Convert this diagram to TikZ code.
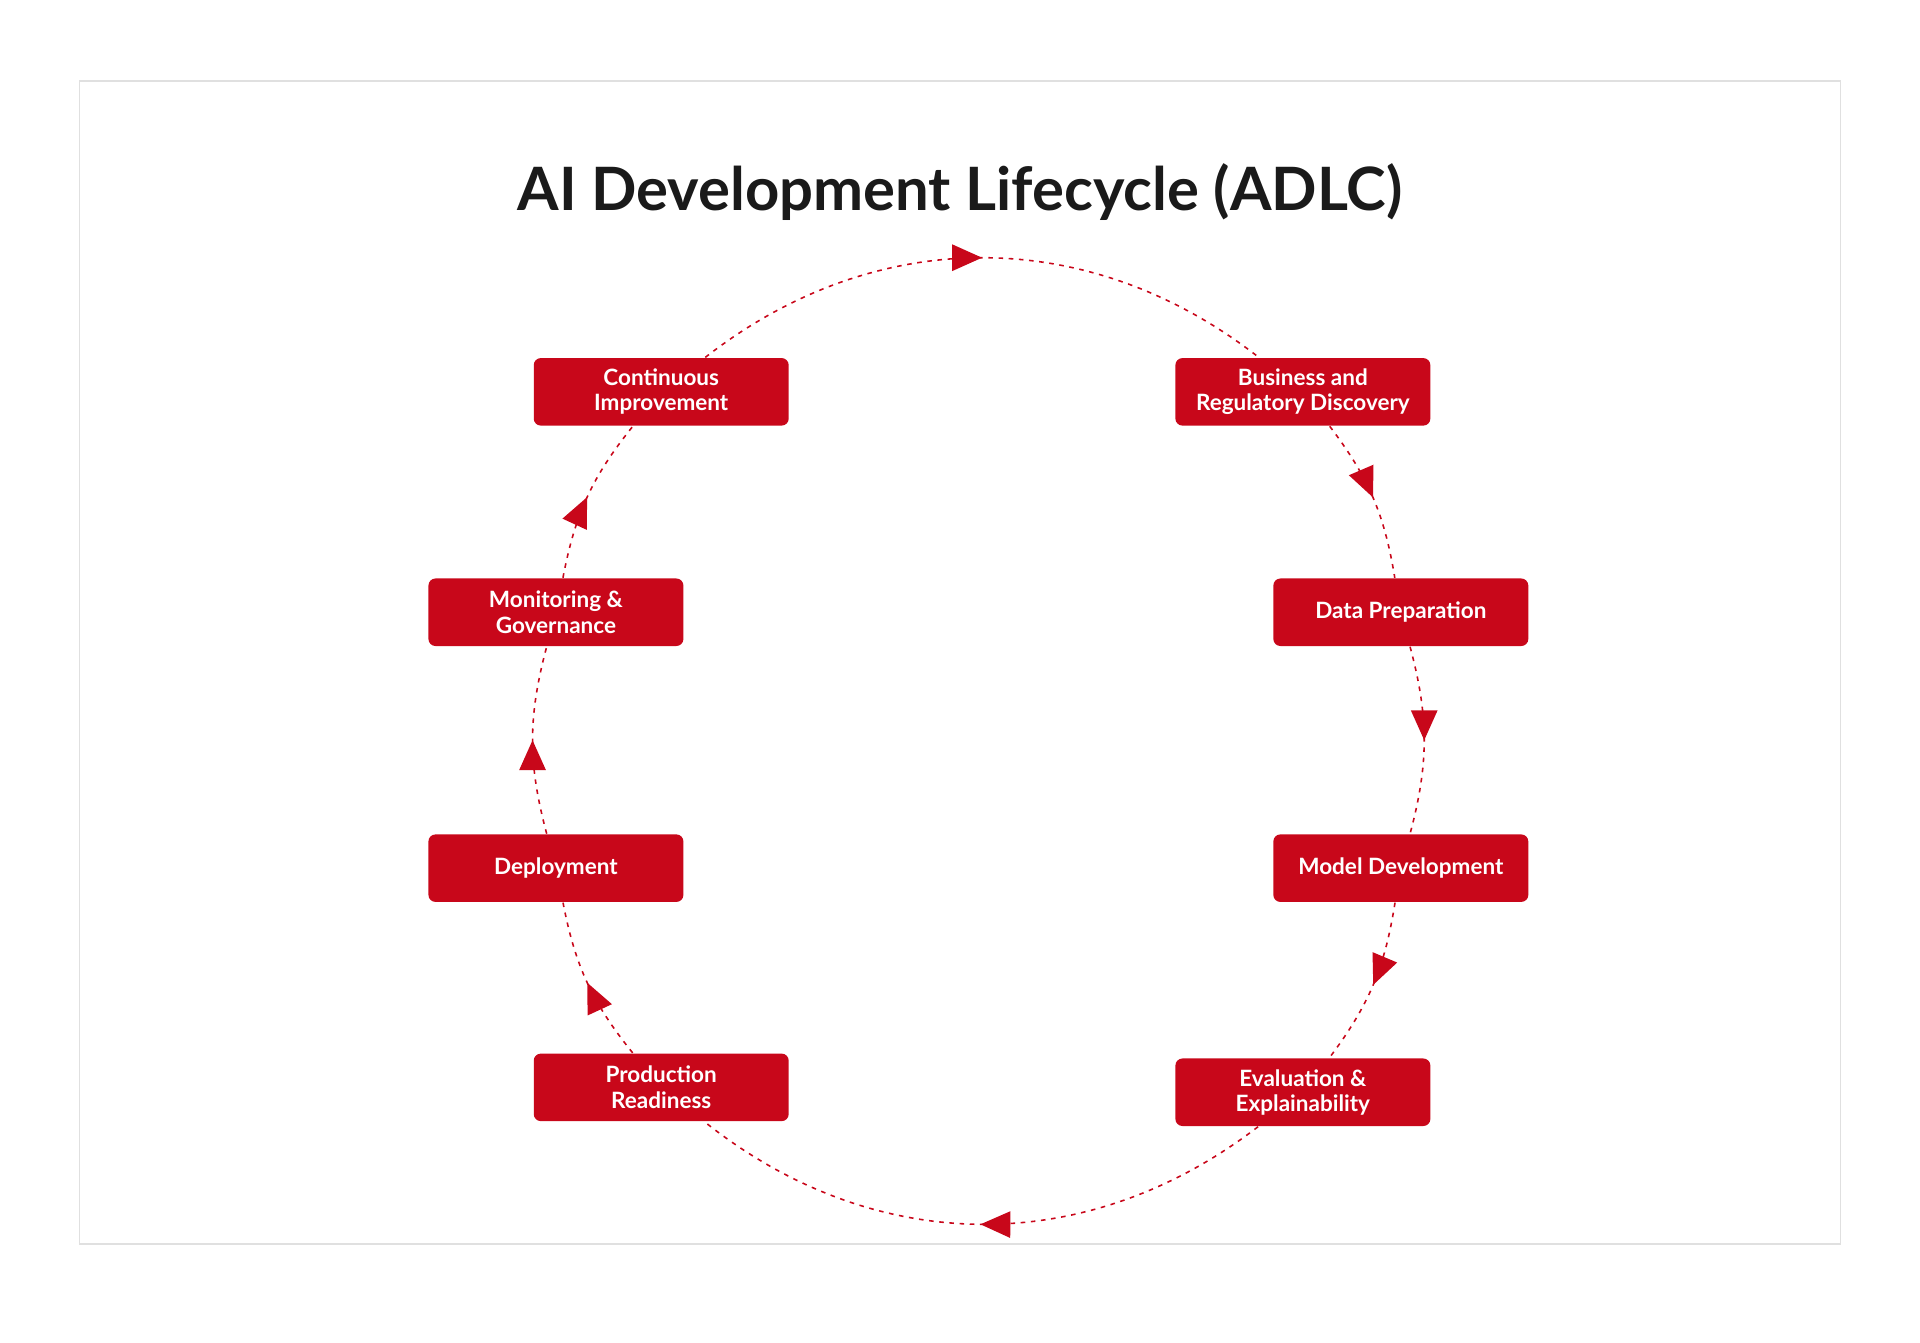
\documentclass[tikz,border=0pt]{standalone}
\usepackage{fontspec}
\setmainfont{Lato}
\usetikzlibrary{arrows.meta, decorations.markings}
\definecolor{adlcRed}{HTML}{C8071A}
\definecolor{titleGray}{HTML}{1A1A1A}

\begin{document}
\begin{tikzpicture}[
    x=0.012245cm, y=-0.012245cm,
    stepNode/.style={rectangle, rounded corners=2pt, fill=adlcRed, text=white,
      minimum width=72.5pt, minimum height=19.2pt, align=center, inner sep=1pt,
      font=\bfseries\fontsize{6.4pt}{7.2pt}\selectfont},
    flowEdge/.style={draw=adlcRed, line width=0.45pt, dash pattern=on 1.3pt off 1.6pt,
      postaction={decorate}, decoration={markings,
      mark=at position 0.5 with {\arrow[adlcRed, solid]{Triangle[length=8.5pt, width=7.5pt]}}}}
  ]

  % frame and page size
  \useasboundingbox (0,0) rectangle (1568,1096);
  \draw[black!12, line width=0.4pt] (65,66) rectangle (1503,1016);

  \node[text=titleGray, font=\bfseries\fontsize{17pt}{20pt}\selectfont] (title) at (784,157)
    {AI Development Lifecycle (ADLC)};

  %--- steps, clockwise from the top right ---
  \node[stepNode] (discovery)  at (1064,320) {Business and\\Regulatory Discovery};
  \node[stepNode] (dataprep)   at (1144,500) {Data Preparation};
  \node[stepNode] (modeldev)   at (1144,709) {Model Development};
  \node[stepNode] (evaluation) at (1064,892) {Evaluation \&\\Explainability};
  \node[stepNode] (readiness)  at (540,888)  {Production\\Readiness};
  \node[stepNode] (deployment) at (454,709)  {Deployment};
  \node[stepNode] (monitoring) at (454,500)  {Monitoring \&\\Governance};
  \node[stepNode] (improve)    at (540,320)  {Continuous\\Improvement};

  %--- cycle ---
  \draw[flowEdge] (improve)    to[bend left=38] (discovery);
  \draw[flowEdge] (discovery)  to[bend left=14] (dataprep);
  \draw[flowEdge] (dataprep)   to[bend left=15] (modeldev);
  \draw[flowEdge] (modeldev)   to[bend left=14] (evaluation);
  \draw[flowEdge] (evaluation) to[bend left=38] (readiness);
  \draw[flowEdge] (readiness)  to[bend left=14] (deployment);
  \draw[flowEdge] (deployment) to[bend left=15] (monitoring);
  \draw[flowEdge] (monitoring) to[bend left=14] (improve);

\end{tikzpicture}
\end{document}
